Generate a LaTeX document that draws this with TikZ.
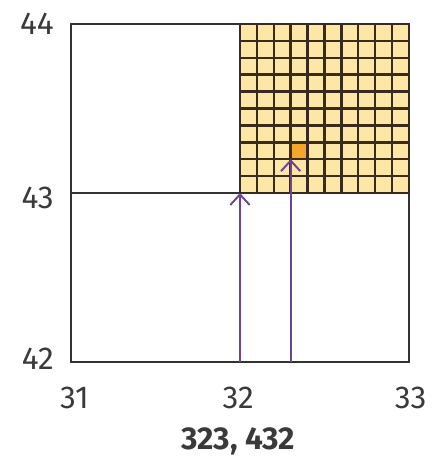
\documentclass[tikz,border=0pt]{standalone}
\usepackage{fontspec}
\setmainfont{Fira Sans}
\usepackage{xcolor}
\usepackage{tikz}
\usetikzlibrary{positioning, calc, arrows.meta}

\definecolor{cellfill}{HTML}{FDE7A6}
\definecolor{cellhit}{HTML}{F4A62A}
\definecolor{gridline}{HTML}{3A2A1C}
\definecolor{frameline}{HTML}{333333}
\definecolor{rayline}{HTML}{6E4391}
\definecolor{labeltext}{HTML}{3A3A3A}

\tikzset{
    tick/.style={text=labeltext, font=\fontsize{18}{20}\selectfont, inner sep=0pt},
    ray/.style={draw=rayline, line width=1.1pt, -{Straight Barb[length=6pt, width=11pt]}}
}

\begin{document}
\begin{tikzpicture}[x=3.38cm, y=3.38cm]
    \useasboundingbox (-0.420, -0.580) rectangle (2.136, 2.142);

    % zoomed degree cell
    \fill[cellfill] (1, 1) rectangle (2, 2);
    \fill[cellhit] (1.3, 1.2) rectangle (1.4, 1.3);
    \foreach \k in {1,...,9} {
        \draw[gridline, line width=1.4pt] (1 + \k/10, 1) -- (1 + \k/10, 2);
        \draw[gridline, line width=1.4pt] (1, 1 + \k/10) -- (2, 1 + \k/10);
    }

    % outer frame and degree lines
    \draw[frameline, line width=1.1pt] (0, 0) rectangle (2, 2);
    \draw[frameline, line width=1.1pt] (1, 0) -- (1, 2);
    \draw[frameline, line width=1.1pt] (0, 1) -- (2, 1);
    \draw[gridline, line width=1.4pt] (1, 1) rectangle (2, 2);

    % latitude labels
    \node[tick, anchor=east] (lat44) at (-0.10, 2.00) {44};
    \node[tick, anchor=east] (lat43) at (-0.10, 0.97) {43};
    \node[tick, anchor=east] (lat42) at (-0.10, 0.02) {42};

    % longitude labels
    \node[tick] (lon31) at (0.02, -0.21) {31};
    \node[tick] (lon32) at (0.99, -0.21) {32};
    \node[tick] (lon33) at (2.01, -0.21) {33};
    \node[tick, font=\fontsize{18}{20}\selectfont\bfseries] (code) at (0.99, -0.47) {323, 432};

    % rays to the cells
    \coordinate (start1) at (1, 0);
    \coordinate (hit1) at (1, 1);
    \coordinate (start2) at (1.3, 0);
    \coordinate (hit2) at (1.3, 1.2);
    \draw[ray] (start1) -- (hit1);
    \draw[ray] (start2) -- (hit2);
\end{tikzpicture}
\end{document}
